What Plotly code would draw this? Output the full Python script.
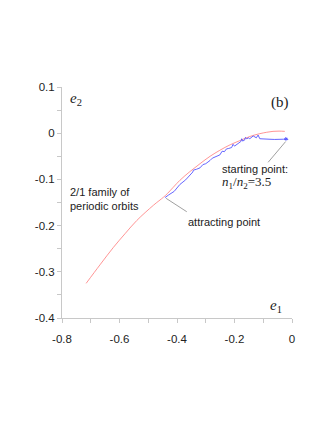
import plotly.graph_objects as go

# Red curve: 2/1 family of periodic orbits
family_e1 = [-0.716, -0.668, -0.621, -0.580, -0.540, -0.482, -0.447, -0.434, -0.390,
             -0.355, -0.320, -0.285, -0.251, -0.215, -0.181, -0.146, -0.112, -0.088,
             -0.066, -0.045, -0.025]
family_e2 = [-0.325, -0.285, -0.247, -0.217, -0.189, -0.156, -0.1385, -0.131, -0.102,
             -0.083, -0.066, -0.050, -0.037, -0.025, -0.016, -0.007, -0.001, 0.002,
             0.004, 0.0045, 0.004]

# Blue curve: evolution from the starting point towards the attracting point
traj_e1 = [-0.016, -0.024, -0.014, -0.022, -0.018, -0.027, -0.020,
           -0.030, -0.045, -0.060, -0.080, -0.100, -0.112, -0.118, -0.124, -0.135,
           -0.147, -0.150, -0.158, -0.162, -0.165, -0.172, -0.175, -0.178, -0.185,
           -0.193, -0.200, -0.205, -0.210, -0.220, -0.228, -0.235, -0.243, -0.251,
           -0.260, -0.270, -0.277, -0.285, -0.300, -0.310, -0.320, -0.332, -0.343,
           -0.345, -0.355, -0.370, -0.390, -0.410, -0.430, -0.442]
traj_e2 = [-0.011, -0.013, -0.014, -0.009, -0.012, -0.012, -0.015,
           -0.013, -0.014, -0.0135, -0.013, -0.012, -0.012, -0.004, -0.010, -0.006,
           -0.012, -0.010, -0.012, -0.009, -0.015, -0.017, -0.012, -0.018, -0.021,
           -0.025, -0.028, -0.024, -0.031, -0.033, -0.034, -0.040, -0.039, -0.047,
           -0.049, -0.051, -0.054, -0.059, -0.066, -0.068, -0.075, -0.078, -0.080,
           -0.084, -0.091, -0.101, -0.111, -0.126, -0.134, -0.1395]

x_tickvals = [-0.8, -0.6, -0.4, -0.2, 0]
x_ticktext = ["-0.8", "-0.6", "-0.4", "-0.2", "0"]
y_tickvals = [-0.4, -0.3, -0.2, -0.1, 0, 0.1]
y_ticktext = ["-0.4", "-0.3", "-0.2", "-0.1", "0", "0.1"]

fig = go.Figure()
fig.add_trace(go.Scatter(x=family_e1, y=family_e2, mode="lines",
                         line=dict(color="#ff7a7a", width=0.8, shape="spline"),
                         hoverinfo="skip", showlegend=False))
fig.add_trace(go.Scatter(x=traj_e1, y=traj_e2, mode="lines",
                         line=dict(color="#5555ff", width=0.9),
                         hoverinfo="skip", showlegend=False))

axis_common = dict(showline=True, linecolor="#c8c8c8", linewidth=1, ticks="outside",
                   ticklen=4, tickcolor="#c8c8c8", showgrid=False, zeroline=False,
                   tickfont=dict(family="Liberation Sans, Arial", size=11.5, color="#222"),
                   mirror=False)
fig.update_xaxes(range=[-0.8, 0], tickvals=x_tickvals, ticktext=x_ticktext,
                 ticklabelstandoff=6,
                 minor=dict(ticks="outside", ticklen=4, dtick=0.1, tick0=0, tickcolor="#c8c8c8"),
                 **axis_common)
fig.update_yaxes(range=[-0.4, 0.1], tickvals=y_tickvals, ticktext=y_ticktext,
                 minor=dict(ticks="outside", ticklen=4, dtick=0.05, tick0=0, tickcolor="#c8c8c8"),
                 **axis_common)

serif = "Liberation Serif, Times New Roman"
sans = "Liberation Sans, Arial"
ann = [
    dict(x=-0.778, y=0.073, text="<i>e</i><sub>2</sub>", font=dict(family=serif, size=15, color="#222"),
         xanchor="left", yanchor="middle"),
    dict(x=-0.057, y=-0.375, text="<i>e</i><sub>1</sub>", font=dict(family=serif, size=15, color="#222"),
         xanchor="center", yanchor="middle"),
    dict(x=-0.043, y=0.067, text="(b)", font=dict(family=serif, size=15, color="#222"),
         xanchor="center", yanchor="middle"),
    dict(x=-0.778, y=-0.142, text="2/1 family of<br>periodic orbits", align="left",
         font=dict(family=sans, size=11, color="#222"), xanchor="left", yanchor="middle"),
    dict(x=-0.369, y=-0.193, text="attracting point",
         font=dict(family=sans, size=11, color="#222"), xanchor="left", yanchor="middle"),
    dict(x=-0.251, y=-0.0765, text="starting point:",
         font=dict(family=sans, size=11, color="#222"), xanchor="left", yanchor="middle"),
    dict(x=-0.251, y=-0.107, text="<i>n</i><sub>1</sub>/<i>n</i><sub>2</sub>=3.5",
         font=dict(family=serif, size=13, color="#222"), xanchor="left", yanchor="middle"),
]
for a in ann:
    a.update(xref="x", yref="y", showarrow=False)

fig.update_layout(
    width=311, height=407,
    margin=dict(l=54, r=27, t=79, b=97, pad=0),
    paper_bgcolor="white", plot_bgcolor="white",
    annotations=ann,
    shapes=[
        dict(type="line", xref="x", yref="y", x0=-0.438, y0=-0.141, x1=-0.366, y1=-0.170,
             line=dict(color="#888", width=0.8)),
        dict(type="line", xref="x", yref="y", x0=-0.022, y0=-0.018, x1=-0.083, y1=-0.063,
             line=dict(color="#888", width=0.8)),
    ],
)
fig.write_html("out.html")
